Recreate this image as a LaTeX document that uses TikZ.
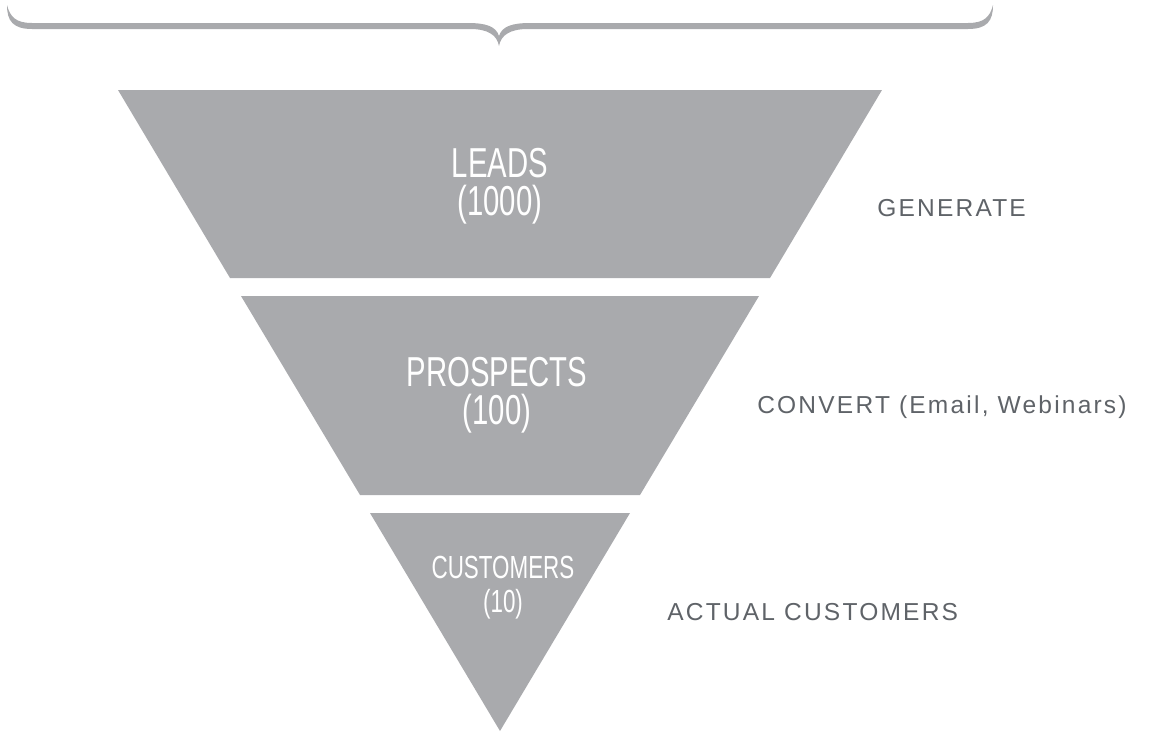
\documentclass[tikz,border=0pt]{standalone}
\usepackage{fontspec}
\setmainfont{Liberation Sans}
\newfontfamily\narrowfont[FakeStretch=0.70]{Liberation Sans}
\newfontfamily\labelfont[LetterSpace=9]{Liberation Sans}
\definecolor{funnelgray}{RGB}{169,170,173}
\definecolor{labelgray}{RGB}{95,99,104}
\begin{document}
\begin{tikzpicture}[x=0.75pt, y=-0.75pt,
    every node/.style={inner sep=0pt},
    band/.style={fill=funnelgray},
    stage/.style={anchor=base, align=center, text=white, font=\narrowfont\fontsize{31.4}{28.5}\selectfont},
    action/.style={anchor=base west, text=labelgray, font=\labelfont\fontsize{18.4}{22}\selectfont}]
    \useasboundingbox (0,0) rectangle (1156,733);
    % brace over the funnel
    \fill[funnelgray] (7,5) .. controls (7,21) and (13,29) .. (32,29) -- (470,29)
        .. controls (488,29) and (497,35) .. (499,46)
        .. controls (501,35) and (510,29) .. (528,29) -- (968,29)
        .. controls (987,29) and (993,21) .. (993,5)
        .. controls (990,17) and (984,23) .. (968,23) -- (530,23)
        .. controls (513,23) and (502,26) .. (499,36)
        .. controls (496,26) and (485,23) .. (468,23) -- (32,23)
        .. controls (16,23) and (10,17) .. (7,5) -- cycle;
    % funnel bands
    \fill[band] (118,90) -- (882,90) -- (770,278) -- (230,278) -- cycle;
    \fill[band] (241,296) -- (759,296) -- (640,495) -- (360,495) -- cycle;
    \fill[band] (370,513) -- (630,513) -- (500,731) -- cycle;
    % base anchor sits on the last line
    \node[stage] (leads) at (500,215) {LEADS\\(1000)};
    \node[stage] (prospects) at (497,424) {PROSPECTS\\(100)};
    \node[stage, font=\narrowfont\fontsize{24}{25.5}\selectfont] (customers) at (503,612) {CUSTOMERS\\(10)};
    \node[action] (generate) at (877,216) {GENERATE};
    \node[action] (convert) at (757,413) {CONVERT (Email, Webinars)};
    \node[action] (actual) at (667,620) {ACTUAL CUSTOMERS};
\end{tikzpicture}
\end{document}
